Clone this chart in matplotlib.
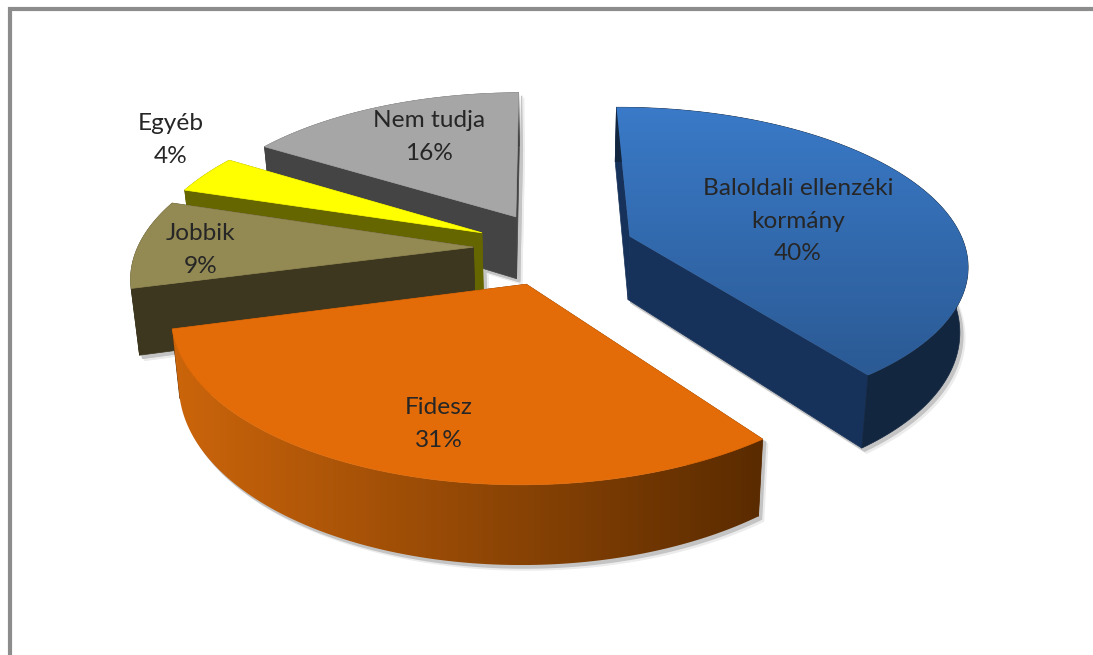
import numpy as np
from matplotlib import pyplot as plt
from matplotlib.colors import LinearSegmentedColormap
from matplotlib.patches import Polygon

labels = ['Baloldali ellenzéki\nkormány', 'Fidesz', 'Jobbik', 'Egyéb', 'Nem tudja']
values = [40, 31, 9, 4, 16]

top_colors = ['#3a7ac8', '#e36c09', '#938953', '#ffff00', '#a6a6a6']
front_colors = ['#17325a', '#5a2b00', '#3d3720', '#666600', '#444444']
side_colors = ['#13263f', None, '#3d3720', '#666600', '#444444']
label_pos = [(798, 221), (439, 424), (201, 250), (171, 140), (429, 137)]

# pixel geometry of the pie
cx, cy = 554, 248
rx, ry = 336, 154
persp = 0.165
height = 64
explode = 0.24
start = -0.5


def project(theta, r, mid, z=0):
    # theta and mid in degrees, clockwise from the back of the pie
    t = np.radians(theta)
    m = np.radians(mid)
    wx = explode * np.sin(m) + r * np.sin(t)
    wy = -explode * np.cos(m) - r * np.cos(t)
    s = 1 / (1 - persp * wy)
    xs = wx * rx * s
    ys = wy * ry * s
    if z:
        # the floor of the pie is a little further away
        xs = xs * 0.98
        ys = ys + height * s
    return cx + xs, cy + ys


def grad_fill(ax, pts, c1, c2, vertical=True, zorder=1):
    pts = np.array(pts)
    cmap = LinearSegmentedColormap.from_list('g', [c1, c2])
    x0, x1 = pts[:, 0].min(), pts[:, 0].max()
    y0, y1 = pts[:, 1].min(), pts[:, 1].max()
    g = np.linspace(0, 1, 256)
    g = g.reshape(-1, 1) if vertical else g.reshape(1, -1)
    im = ax.imshow(g, cmap=cmap, extent=(x0, x1, y1, y0), aspect='auto', zorder=zorder, interpolation='bilinear')
    poly = Polygon(pts, closed=True, transform=ax.transData, fc='none', ec='none')
    ax.add_patch(poly)
    im.set_clip_path(poly)


fig = plt.figure(figsize=(10.93, 6.55), dpi=100)
ax = fig.add_axes([0, 0, 1, 1])

# the chart frame, only left and top survive in the picture
ax.plot([9.5, 9.5, 1093], [655, 8.5, 8.5], color='#8c8c8c', lw=3, solid_joinstyle='miter', zorder=0)

angles = np.cumsum([0] + values) * 3.6 + start
wedges = []
for i in range(len(values)):
    a0, a1 = angles[i], angles[i + 1]
    mid = (a0 + a1) / 2
    th = np.linspace(a0, a1, 120)
    tx, ty = project(th, 1, mid)
    bx, by = project(th, 1, mid, z=1)
    ax0, ay0 = project(0, 0, mid)
    ax1, ay1 = project(0, 0, mid, z=1)
    wedges.append(dict(top=np.column_stack([np.r_[ax0, tx], np.r_[ay0, ty]]),
                       tx=tx, ty=ty, bx=bx, by=by, ax0=ax0, ay0=ay0, ax1=ax1, ay1=ay1))

# soft shadows under everything
for off, col in [(5, '#ececec'), (3, '#c4c4c4')]:
    for w in wedges:
        outline = np.column_stack([np.r_[w['ax1'], w['bx']], np.r_[w['ay1'], w['by']]])
        ax.add_patch(Polygon(outline + off, fc=col, ec=col, zorder=0.5))
        for k in (0, -1):
            quad = [(w['ax1'] + off, w['ay1'] + off), (w['bx'][k] + off, w['by'][k] + off),
                    (w['tx'][k] + off, w['ty'][k] + off), (w['ax0'] + off, w['ay0'] + off)]
            ax.add_patch(Polygon(quad, fc=col, ec=col, zorder=0.5))

# painter's order: back slices first
order = [4, 3, 2, 1, 0]
z = 1
for i in order:
    w = wedges[i]
    for k in (0, -1):
        quad = [(w['ax0'], w['ay0']), (w['tx'][k], w['ty'][k]), (w['bx'][k], w['by'][k]), (w['ax1'], w['ay1'])]
        ax.add_patch(Polygon(quad, fc=front_colors[i], ec=front_colors[i], lw=0.5, zorder=z))
    z += 1
    outer = np.column_stack([np.r_[w['tx'], w['bx'][::-1]], np.r_[w['ty'], w['by'][::-1]]])
    if labels[i] == 'Fidesz':
        grad_fill(ax, outer, '#cc650b', '#5a2b00', vertical=False, zorder=z)
    else:
        ax.add_patch(Polygon(outer, fc=side_colors[i], ec=side_colors[i], lw=0.5, zorder=z))
    z += 1
    if labels[i].startswith('Baloldali'):
        grad_fill(ax, w['top'], top_colors[i], '#2b5a94', zorder=z)
    else:
        ax.add_patch(Polygon(w['top'], fc=top_colors[i], ec=top_colors[i], lw=0.5, zorder=z))
    z += 1

for name, val, pos in zip(labels, values, label_pos):
    ax.text(pos[0], pos[1], f'{name}\n{val}%', ha='center', va='center', fontsize=17.6,
            family='Lato', color='#262626', linespacing=1.65, zorder=z)

ax.set_xlim(0, 1093)
ax.set_ylim(655, 0)
ax.axis('off')
fig.savefig('out.png', dpi=100)
